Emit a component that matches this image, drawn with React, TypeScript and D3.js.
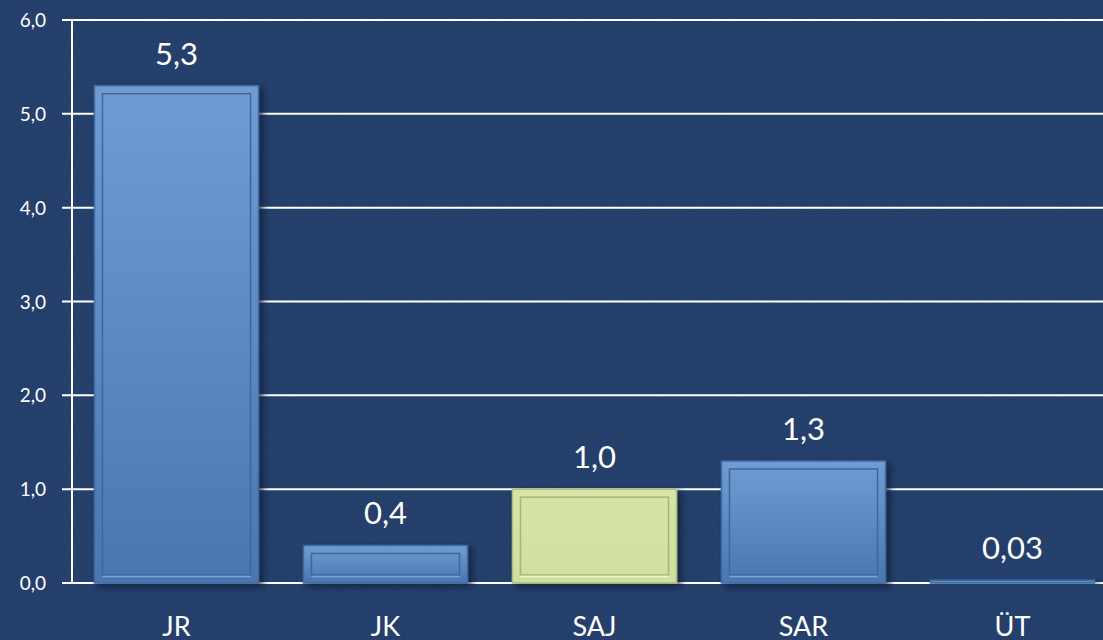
import React from "react";
import * as d3 from "d3";

const categories = ["JR", "JK", "SAJ", "SAR", "ÜT"];
const values = [5.3, 0.4, 1.0, 1.3, 0.03];
const valueLabels = ["5,3", "0,4", "1,0", "1,3", "0,03"];
const highlighted = ["SAJ"];
const yTicks = [0, 1, 2, 3, 4, 5, 6];

const fmt = (v: number) => v.toFixed(1).replace(".", ",");

export default function App() {
  const width = 1103;
  const height = 640;
  const marginLeft = 72;
  const marginTop = 20;
  const plotBottom = 583;
  const font = "'Century Gothic', 'URW Gothic', Lato, 'Open Sans', sans-serif";

  const x = d3
    .scaleBand()
    .domain(categories)
    .range([marginLeft, marginLeft + 5 * 209])
    .paddingInner(0.215)
    .paddingOuter(0.1075);
  const y = d3.scaleLinear().domain([0, 6]).range([plotBottom, marginTop]);

  return (
    <svg
      width={width}
      height={height}
      style={{ position: "fixed", left: 0, top: 0 }}
      fontFamily={font}
    >
      <defs>
        <linearGradient id="blueBar" x1="0" y1="0" x2="0" y2="1">
          <stop offset="0%" stopColor="#709cd3" />
          <stop offset="100%" stopColor="#4977b0" />
        </linearGradient>
        <linearGradient id="greenBar" x1="0" y1="0" x2="0" y2="1">
          <stop offset="0%" stopColor="#d4e5a6" />
          <stop offset="100%" stopColor="#cfe09e" />
        </linearGradient>
        <filter id="noise" x="0" y="0" width="100%" height="100%">
          <feTurbulence type="fractalNoise" baseFrequency="0.9" numOctaves="2" seed="3" result="n" />
          <feColorMatrix
            type="matrix"
            values="0 0 0 0 0.2  0 0 0 0 0.3  0 0 0 0 0.5  0 0 0 0.12 0"
          />
        </filter>
        <filter id="shadow" x="-10%" y="-10%" width="130%" height="130%">
          <feDropShadow dx="4" dy="3" stdDeviation="3" floodColor="#0a1a33" floodOpacity="0.75" />
        </filter>
      </defs>

      <rect width={width} height={height} fill="#1f3a66" />
      <rect width={width} height={height} filter="url(#noise)" />

      {/* gridlines */}
      <g stroke="#ffffff" strokeWidth={2}>
        {yTicks.map((t) => (
          <line key={t} x1={marginLeft - 10} x2={width} y1={y(t)} y2={y(t)} />
        ))}
        <line x1={marginLeft} x2={marginLeft} y1={y(6)} y2={y(0)} />
      </g>

      {/* y tick labels */}
      <g fill="#ffffff" fontSize={19} textAnchor="end">
        {yTicks.map((t) => (
          <text key={t} x={marginLeft - 26} y={y(t) + 7}>
            {fmt(t)}
          </text>
        ))}
      </g>

      {/* bars */}
      {categories.map((c, i) => {
        const bx = x(c)!;
        const bw = x.bandwidth();
        const top = y(values[i]);
        const h = y(0) - top;
        const green = highlighted.includes(c);
        const inset = Math.min(8, h / 4);
        return (
          <g key={c}>
            <rect
              x={bx}
              y={top}
              width={bw}
              height={h}
              fill={green ? "url(#greenBar)" : "url(#blueBar)"}
              stroke={green ? "#aebd7c" : "#3f6aa0"}
              strokeWidth={1.5}
              filter="url(#shadow)"
            />
            {h > 12 && (
              <rect
                x={bx + inset}
                y={top + inset}
                width={bw - 2 * inset}
                height={h - 2 * inset}
                fill="none"
                stroke={green ? "#a6b578" : "#3d679c"}
                strokeWidth={1.5}
              />
            )}
            {h > 12 && (
              <line
                x1={bx + inset}
                x2={bx + bw - inset}
                y1={top + h - inset + 1.5}
                y2={top + h - inset + 1.5}
                stroke={green ? "#eef6d2" : "#7ea6d8"}
                strokeWidth={1.5}
              />
            )}
            <text
              x={bx + bw / 2}
              y={top - 21}
              fill="#ffffff"
              fontSize={31}
              textAnchor="middle"
            >
              {valueLabels[i]}
            </text>
            <text
              x={bx + bw / 2}
              y={636}
              fill="#ffffff"
              fontSize={27}
              textAnchor="middle"
            >
              {c}
            </text>
          </g>
        );
      })}
    </svg>
  );
}
